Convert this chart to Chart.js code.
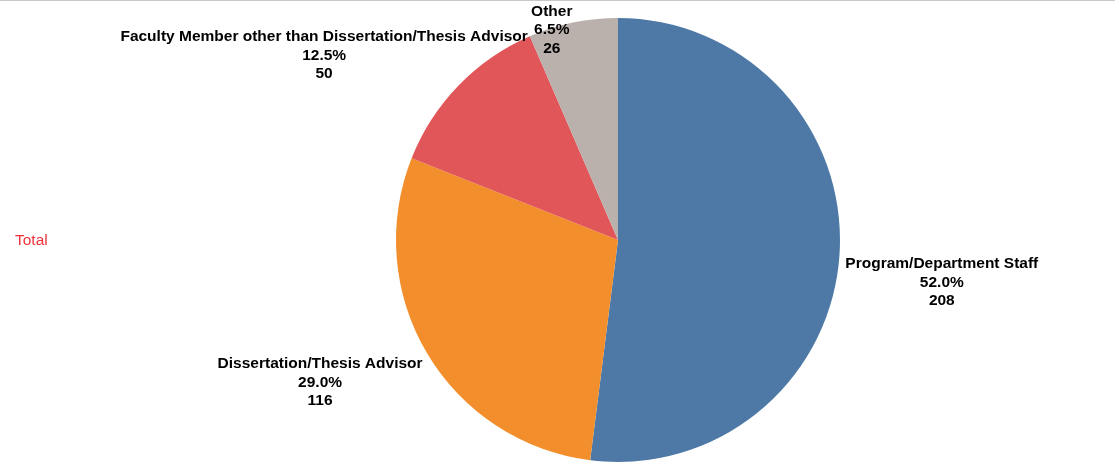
<!DOCTYPE html>
<html>
<head>
<meta charset="utf-8">
<script src="https://cdn.jsdelivr.net/npm/chart.js@4.4.1/dist/chart.umd.min.js"></script>
<style>
  html, body { margin: 0; padding: 0; background: #fff; }
  #wrap { position: relative; width: 1115px; height: 467px; }
  #topline { position: absolute; left: 0; top: 0; width: 1115px; height: 1px; background: #c8c8c8; }
  #total { position: absolute; left: 15px; top: 231px; font: 15.5px "Liberation Sans", Arial, sans-serif; color: #f0323a; }
</style>
</head>
<body>
<div id="wrap">
  <canvas id="pieChart" width="1115" height="467"></canvas>
  <div id="topline"></div>
  <div id="total">Total</div>
</div>
<script>
const categories = [
  "Program/Department Staff",
  "Dissertation/Thesis Advisor",
  "Faculty Member other than Dissertation/Thesis Advisor",
  "Other",
];
const counts = [208, 116, 50, 26];
const percents = ["52.0%", "29.0%", "12.5%", "6.5%"];
const colors = ["#4e79a7", "#f28e2b", "#e15759", "#bab0ac"];

// outside labels, placed from each arc's mid angle
const outsideLabels = {
  id: "outsideLabels",
  afterDatasetsDraw(chart, args, opts) {
    const ctx = chart.ctx;
    const meta = chart.getDatasetMeta(0);
    const lineH = opts.lineHeight;
    ctx.save();
    ctx.font = opts.font;
    ctx.fillStyle = "#000";
    ctx.textAlign = "center";
    ctx.textBaseline = "middle";
    meta.data.forEach((arc, i) => {
      const p = arc.getProps(["x", "y", "startAngle", "endAngle", "outerRadius"], true);
      const mid = (p.startAngle + p.endAngle) / 2;
      const lines = [categories[i], percents[i], String(counts[i])];
      const w = Math.max(...lines.map((t) => ctx.measureText(t).width));
      const h = lineH * lines.length;
      const r = p.outerRadius + opts.gap;
      const ax = p.x + r * Math.cos(mid);
      const ay = p.y + r * Math.sin(mid);
      const nudge = opts.nudge[i] || [0, 0];
      let cx = ax + (w / 2) * Math.cos(mid) + nudge[0];
      let cy = ay + (h / 2) * Math.sin(mid) + nudge[1];
      if (cy - h / 2 < 2) cy = 2 + h / 2;
      lines.forEach((t, k) => {
        ctx.fillText(t, cx, cy - h / 2 + lineH * (k + 0.5));
      });
    });
    ctx.restore();
  },
};

new Chart(document.getElementById("pieChart"), {
  type: "pie",
  data: {
    labels: categories,
    datasets: [
      {
        data: counts,
        backgroundColor: colors,
        borderWidth: 0,
      },
    ],
  },
  options: {
    responsive: false,
    animation: false,
    layout: { padding: { left: 121, right: 0, top: 18, bottom: 5 } },
    plugins: {
      legend: { display: false },
      tooltip: { enabled: false },
      outsideLabels: {
        font: "bold 15.5px 'Liberation Sans', Arial, sans-serif",
        lineHeight: 18.5,
        gap: 10,
        nudge: [[-4, 26], [-10, 10], [19, -4], [-15, 0]],
      },
    },
  },
  plugins: [outsideLabels],
});
</script>
</body>
</html>
